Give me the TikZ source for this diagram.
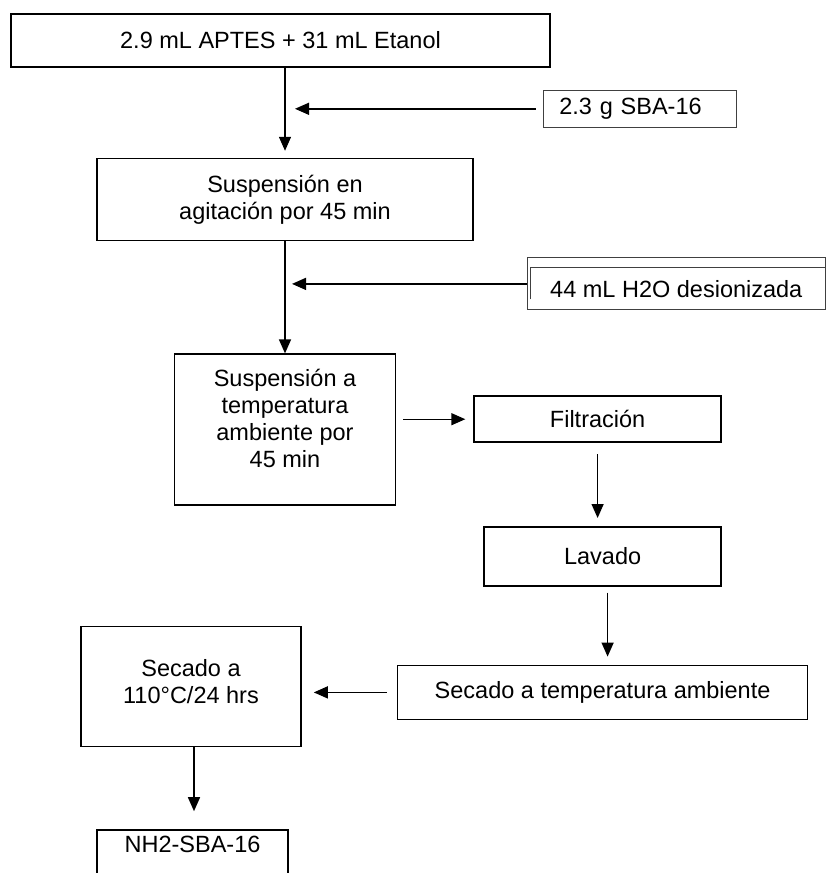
\documentclass[tikz,border=0pt]{standalone}
\usepackage{fontspec}
\setmainfont{Liberation Sans}
\usepackage{tikz}
\usetikzlibrary{arrows.meta,positioning}

\begin{document}
\begin{tikzpicture}[
            x=1pt, y=1pt,
            font=\fontsize{23.5}{27}\selectfont,
            every node/.style={rectangle, draw, line width=1.6pt, inner sep=0pt, align=center},
            feed/.style={draw=black!75, line width=1pt},
            flow/.style={-{Triangle[length=14pt,width=12pt]}, line width=1.4pt}
          ]
          \useasboundingbox (0,0) rectangle (825,-873);

          % Nodes
          \node[minimum width=539pt, minimum height=53pt] (mezcla) at (280.5,-40.5) {2.9 mL APTES + 31 mL Etanol};
          \node[feed, below right=22pt and -8pt of mezcla, minimum height=37pt, text width=161pt, inner xsep=16pt, align=left] (sba) {2.3 g SBA-16};
          \node[below=90pt of mezcla, xshift=4.5pt, minimum width=376pt, minimum height=82pt] (agitacion) {Suspensión en\\agitación por 45 min};
          \node[feed, below right=16pt and 53pt of agitacion, minimum width=298pt, minimum height=52pt, text height=27pt, text depth=0pt] (agua) {44 mL H2O desionizada};
          \node[below=112pt of agitacion, minimum width=221pt, minimum height=151pt] (reposo) {Suspensión a\\temperatura\\ambiente por\\45 min\\[-4pt]\mbox{}};
          \node[right=77pt of reposo, yshift=10.5pt, minimum width=247pt, minimum height=46pt] (filtracion) {Filtración};
          \node[below=83pt of filtracion, xshift=5pt, minimum width=237pt, minimum height=59pt] (lavado) {Lavado};
          \node[below=78pt of lavado, minimum width=410pt, minimum height=54pt] (secadoamb) {Secado a temperatura ambiente};
          \node[left=95pt of secadoamb, yshift=6pt, minimum width=220pt, minimum height=120pt] (secado) {Secado a\\110°C/24 hrs\\[-17pt]\mbox{}};
          \node[below=82pt of secado, xshift=1.5pt, minimum width=191pt, text height=22pt, text depth=38.5pt] (producto) {NH2-SBA-16};

          % inner edge of the water box
          \draw[draw=black!75, line width=1pt] ([shift={(4pt,-42pt)}]agua.north west) |- ([yshift=-10pt]agua.north east);

          % Edges
          \coordinate (union1) at (agitacion.north |- sba.west);
          \coordinate (union2) at (agitacion.south |- agua.west);
          \draw[flow, shorten >=7pt] (mezcla.south -| agitacion.north) -- (agitacion.north);
          \draw[flow, shorten <=7pt, shorten >=10pt] (sba.west) -- (union1);
          \draw[flow] (agitacion.south) -- (reposo.north);
          \draw[flow, shorten >=7pt] (agua.west) -- (union2);
          \draw[flow, shorten <=7pt, shorten >=8pt] (reposo.east |- filtracion.west) -- (filtracion.west);
          \draw[flow, shorten <=11pt, shorten >=8pt] (filtracion.south) -- (filtracion.south |- lavado.north);
          \draw[flow, shorten <=6pt, shorten >=8pt] ([xshift=5pt]lavado.south) -- ([xshift=5pt]lavado.south |- secadoamb.north);
          \draw[flow, shorten <=10pt, shorten >=12pt] (secadoamb.west) -- (secadoamb.west -| secado.east);
          \draw[flow, shorten >=18pt] ([xshift=3pt]secado.south) -- ([xshift=3pt]secado.south |- producto.north);

        \end{tikzpicture}
\end{document}
